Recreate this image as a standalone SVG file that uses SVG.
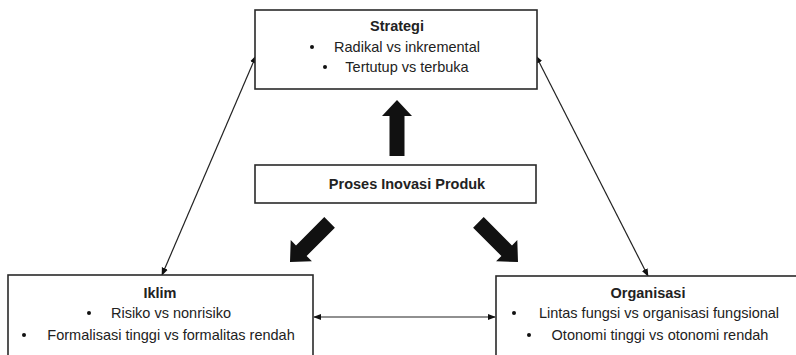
<svg xmlns="http://www.w3.org/2000/svg" width="796" height="355" viewBox="0 0 796 355">
<defs>
<style>
.box{fill:#fff;stroke:#2a2a2a;stroke-width:1.6}
.t{font-family:"Liberation Sans",Arial,sans-serif;font-size:14.5px;fill:#222;text-anchor:middle}
.b{font-weight:bold}
.link{stroke:#222;stroke-width:1.2;fill:none;marker-start:url(#ah);marker-end:url(#ah)}
.big{fill:#111}
</style>
<marker id="ah" viewBox="0 0 10 10" refX="9" refY="5" markerWidth="8" markerHeight="8" markerUnits="userSpaceOnUse" orient="auto-start-reverse">
<path d="M0,1 L10,5 L0,9 Z" fill="#111"/>
</marker>
<polygon id="fat" points="0,0 -16,-15 -16,-7.5 -56,-7.5 -56,7.5 -16,7.5 -16,15"/>
</defs>
<rect width="796" height="355" fill="#fff"/>
<g id="connectors">
<line class="link" x1="256" y1="56" x2="162" y2="275"/>
<line class="link" x1="536" y1="56" x2="648" y2="276"/>
<line class="link" x1="314" y1="317" x2="495" y2="317"/>
<use href="#fat" class="big" transform="translate(397,100) rotate(-90)"/>
<use href="#fat" class="big" transform="translate(290,262) rotate(135)"/>
<use href="#fat" class="big" transform="translate(518,262) rotate(45)"/>
</g>
<g id="strategi">
<rect class="box" x="255" y="10" width="282" height="79"/>
<text class="t b" x="397" y="31">Strategi</text>
<circle cx="312" cy="47" r="2" fill="#111"/>
<text class="t" x="407" y="52">Radikal vs inkremental</text>
<circle cx="325" cy="67" r="2" fill="#111"/>
<text class="t" x="407" y="72">Tertutup vs terbuka</text>
</g>
<g id="proses">
<rect class="box" x="255" y="165" width="281" height="38"/>
<text class="t b" x="407" y="189">Proses Inovasi Produk</text>
</g>
<g id="iklim">
<rect class="box" x="8" y="275" width="305" height="90"/>
<text class="t b" x="160" y="298">Iklim</text>
<circle cx="89" cy="313" r="2" fill="#111"/>
<text class="t" x="171" y="318">Risiko vs nonrisiko</text>
<circle cx="24" cy="335" r="2" fill="#111"/>
<text class="t" x="171" y="340">Formalisasi tinggi vs formalitas rendah</text>
</g>
<g id="organisasi">
<rect class="box" x="496" y="276" width="310" height="90"/>
<text class="t b" x="648" y="298">Organisasi</text>
<circle cx="514" cy="313" r="2" fill="#111"/>
<text class="t" x="659" y="318">Lintas fungsi vs organisasi fungsional</text>
<circle cx="529" cy="335" r="2" fill="#111"/>
<text class="t" x="660" y="340">Otonomi tinggi vs otonomi rendah</text>
</g>
</svg>
